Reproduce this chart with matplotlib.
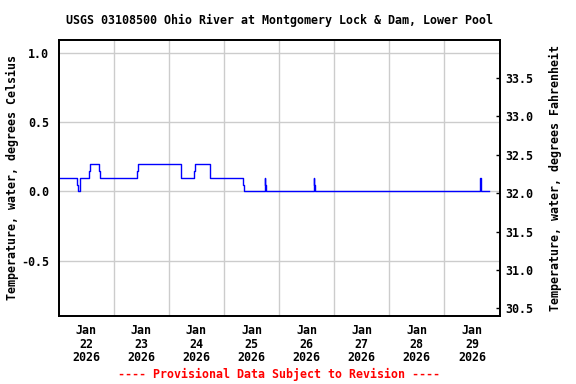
import numpy as np
import matplotlib.pyplot as plt

# hours since 2026-01-22 00:00, step values in deg C
hours = [0, 8.0, 8.3, 9.2, 13.1, 13.5, 17.6, 17.9, 34.0, 34.5, 53.2, 58.9, 59.5,
         66.0, 80.3, 80.6, 89.8, 90.0, 90.3, 111.2, 111.4, 111.7, 183.6, 183.8,
         184.1, 187.6]
temps = [0.1, 0.05, 0.0, 0.1, 0.15, 0.2, 0.15, 0.1, 0.15, 0.2, 0.1, 0.15, 0.2,
         0.1, 0.05, 0.0, 0.1, 0.05, 0.0, 0.1, 0.05, 0.0, 0.1, 0.05, 0.0, 0.0]

day_labels = ['Jan\n22\n2026', 'Jan\n23\n2026', 'Jan\n24\n2026', 'Jan\n25\n2026',
              'Jan\n26\n2026', 'Jan\n27\n2026', 'Jan\n28\n2026', 'Jan\n29\n2026']
c_ticks = [-0.5, 0.0, 0.5, 1.0]
f_ticks = [30.5, 31.0, 31.5, 32.0, 32.5, 33.0, 33.5]

plt.rcParams['font.family'] = 'DejaVu Sans Mono'
plt.rcParams['font.weight'] = 'bold'
fs = 8.4

fig = plt.figure(figsize=(5.76, 3.84), dpi=100)
ax = fig.add_axes([58.5/576, 68/384, 441/576, 276.5/384])

ax.step(hours, temps, where='post', color='#0000ff', lw=1)

ax.set_xlim(0, 192)
ax.set_ylim(-0.899, 1.097)
ax.set_xticks([12 + 24 * i for i in range(len(day_labels))])
ax.set_xticklabels(day_labels, fontsize=fs, fontweight='bold', linespacing=1.05)
ax.set_xticks([24 * i for i in range(1, 8)], minor=True)
ax.tick_params(axis='x', which='both', length=0, pad=6)
ax.set_yticks(c_ticks)
ax.set_yticklabels(['%.1f' % v for v in c_ticks], fontsize=fs, fontweight='bold')
ax.tick_params(axis='y', length=0, pad=7)
ax.grid(True, which='minor', axis='x', color='#cccccc', lw=1)
ax.grid(True, which='major', axis='y', color='#cccccc', lw=1)
ax.set_axisbelow(True)

ax2 = ax.twinx()
ax2.set_ylim(30.4, 34.0)
ax2.set_yticks(f_ticks)
ax2.set_yticklabels(['%.1f' % v for v in f_ticks], fontsize=fs, fontweight='bold')
ax2.tick_params(axis='y', direction='in', length=3, width=1, pad=4)

for a in (ax, ax2):
    for s in a.spines.values():
        s.set_linewidth(1.3)

cy = 1 - 178 / 384
fig.text(12 / 576, cy, 'Temperature, water, degrees Celsius', rotation=90,
         ha='center', va='center', fontsize=fs, fontweight='bold')
fig.text(555 / 576, cy, 'Temperature, water, degrees Fahrenheit', rotation=90,
         ha='center', va='center', fontsize=fs, fontweight='bold')

cx = (58.5 + 499.5) / 2 / 576
fig.text(cx, 1 - 20 / 384, 'USGS 03108500 Ohio River at Montgomery Lock & Dam, Lower Pool',
         ha='center', va='center', fontsize=fs, fontweight='bold')
fig.text(cx, 1 - 374 / 384, '---- Provisional Data Subject to Revision ----',
         ha='center', va='center', fontsize=fs, fontweight='bold', color='red')

fig.savefig('out.png', dpi=100)
